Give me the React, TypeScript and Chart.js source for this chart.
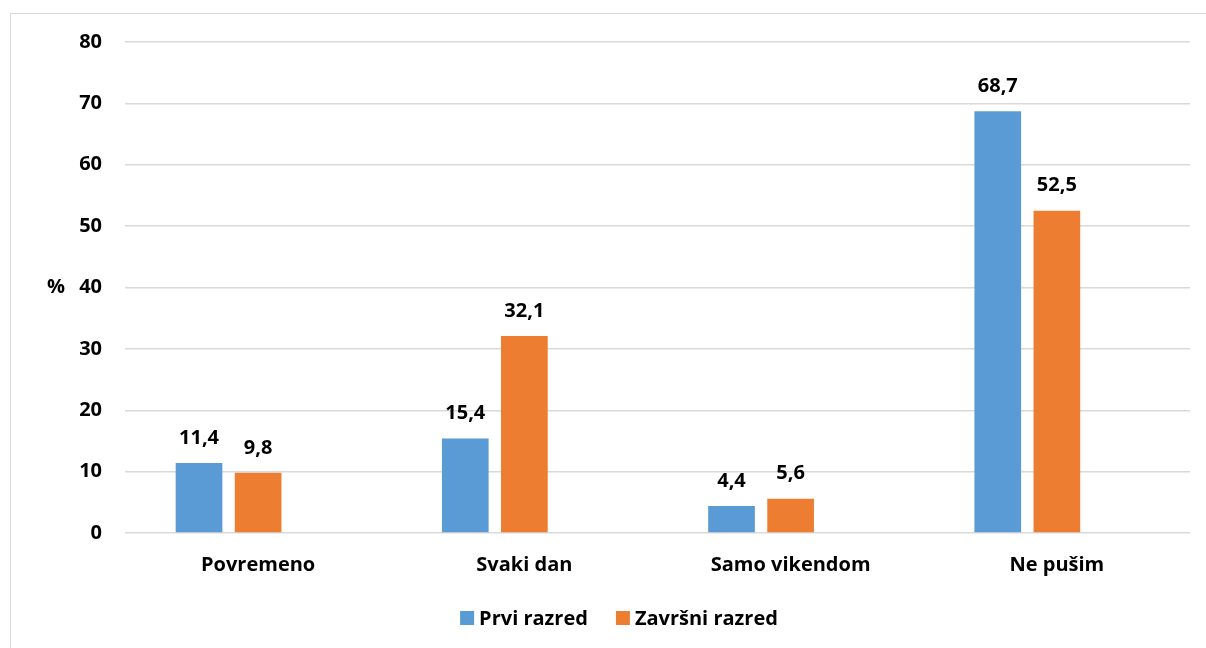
import React, { useEffect, useRef } from "react";
import { Chart, registerables } from "chart.js";

Chart.register(...registerables);

const categories = ["Povremeno", "Svaki dan", "Samo vikendom", "Ne pušim"];
const prviRazred = [11.4, 15.4, 4.4, 68.7];
const zavrsniRazred = [9.8, 32.1, 5.6, 52.5];
const emptySeries = [null, null, null, null];
const seriesNames = ["Prvi razred", "Završni razred"];
const seriesColors = ["#5B9BD5", "#ED7D31"];
const yTicks = [0, 10, 20, 30, 40, 50, 60, 70, 80];

const FONT = "'Open Sans', Lato, sans-serif";

const fmt = (v: number) => v.toFixed(1).replace(".", ",");

const valueLabels = {
  id: "valueLabels",
  afterDatasetsDraw(chart: any) {
    const ctx = chart.ctx;
    ctx.save();
    ctx.font = `bold 20px ${FONT}`;
    ctx.fillStyle = "#000";
    ctx.textAlign = "center";
    ctx.textBaseline = "middle";
    chart.data.datasets.forEach((ds: any, di: number) => {
      const meta = chart.getDatasetMeta(di);
      meta.data.forEach((bar: any, i: number) => {
        const v = ds.data[i];
        if (v == null) return;
        ctx.fillText(fmt(v), bar.x, bar.y - 25);
      });
    });
    ctx.restore();
  },
};

const extras = {
  id: "extras",
  afterDraw(chart: any) {
    const ctx = chart.ctx;
    const area = chart.chartArea;
    ctx.save();
    ctx.font = `bold 20px ${FONT}`;
    ctx.fillStyle = "#000";
    ctx.textBaseline = "middle";
    ctx.textAlign = "center";
    ctx.fillText("%", 56, (area.top + area.bottom) / 2);

    // legend
    const box = 14;
    const gapText = 5;
    const gapItems = 28;
    const widths = seriesNames.map((n) => ctx.measureText(n).width);
    const total = widths.reduce((a, w) => a + box + gapText + w, 0) + gapItems * (seriesNames.length - 1);
    let x = 619 - total / 2;
    const y = 618;
    ctx.textAlign = "left";
    seriesNames.forEach((n, i) => {
      ctx.fillStyle = seriesColors[i];
      ctx.fillRect(x, y - box / 2, box, box);
      ctx.fillStyle = "#000";
      ctx.fillText(n, x + box + gapText, y + 1);
      x += box + gapText + widths[i] + gapItems;
    });
    ctx.restore();
  },
};

export default function App() {
  const ref = useRef<HTMLCanvasElement>(null);
  useEffect(() => {
    const chart = new Chart(ref.current!, {
      type: "bar",
      data: {
        labels: categories,
        datasets: [
          { label: seriesNames[0], data: prviRazred, backgroundColor: seriesColors[0] },
          { label: seriesNames[1], data: zavrsniRazred, backgroundColor: seriesColors[1] },
          { label: "", data: emptySeries as any, backgroundColor: "transparent" },
        ],
      },
      options: {
        animation: false,
        responsive: false,
        maintainAspectRatio: false,
        datasets: { bar: { categoryPercentage: 0.666, barPercentage: 0.79 } },
        layout: { padding: { top: 42, right: 16, left: 0, bottom: 0 } },
        plugins: { legend: { display: false }, tooltip: { enabled: false } },
        scales: {
          x: {
            grid: { display: false, drawTicks: false },
            border: { display: false },
            ticks: { color: "#000", font: { family: FONT, size: 20, weight: "bold" }, padding: 20 },
            afterFit: (s: any) => { s.height = 115; },
          },
          y: {
            min: 0,
            max: 80,
            afterBuildTicks: (s: any) => { s.ticks = yTicks.map((v) => ({ value: v })); },
            grid: { color: "#D9D9D9", lineWidth: 1.5, drawTicks: false },
            border: { display: false },
            ticks: { color: "#000", font: { family: FONT, size: 20, weight: "bold" }, padding: 23 },
            afterFit: (s: any) => { s.width = 125; },
          },
        },
      },
      plugins: [valueLabels, extras],
    });
    return () => chart.destroy();
  }, []);
  return (
    <div style={{ position: "fixed", left: 0, top: 0, width: 1206, height: 648, background: "#fff", overflow: "hidden" }}>
      <div style={{ position: "absolute", left: 10, top: 13, width: 1300, height: 700, border: "1.5px solid #D9D9D9" }} />
      <canvas ref={ref} width={1206} height={648} style={{ position: "absolute", left: 0, top: 0 }} />
    </div>
  );
}
